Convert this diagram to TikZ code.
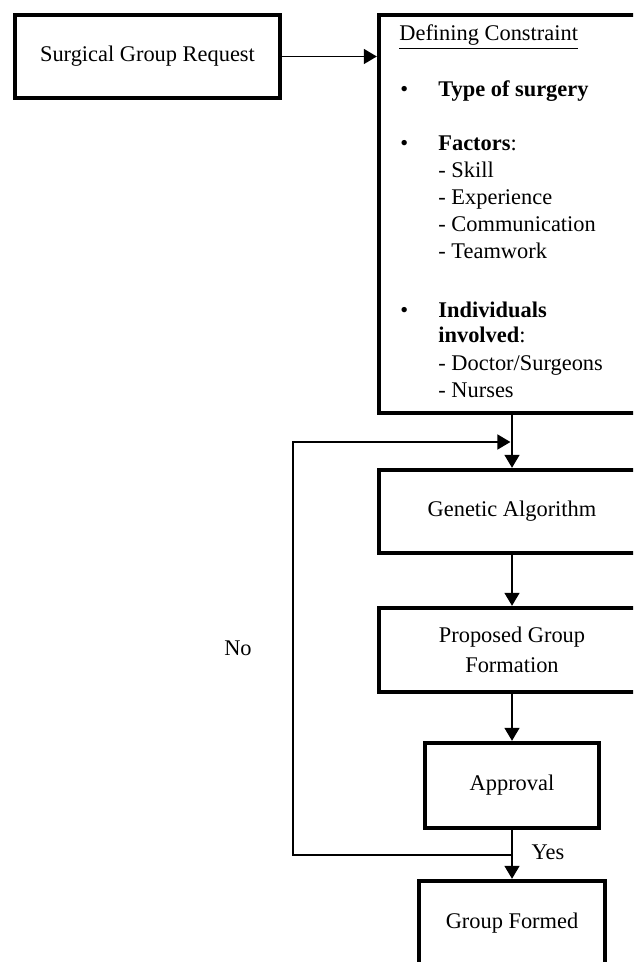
\documentclass[tikz,border=0pt]{standalone}
\usepackage{fontspec}
\setmainfont{Liberation Serif}
\usepackage{tikz}
\usetikzlibrary{arrows.meta}

\begin{document}
\begin{tikzpicture}[x=0.5pt,y=-0.5pt,
	font=\fontsize{11.2}{15}\selectfont,
	stepbox/.style={draw,line width=2.2pt,inner sep=0pt,align=center},
	flow/.style={line width=0.8pt,-{Triangle[length=6.5pt,width=7.5pt]}},
	txt/.style={inner sep=0pt,anchor=base west}]
	\useasboundingbox (0,0) rectangle (633,962);
	\clip (0,0) rectangle (633,962);
	
	%boxes
	\node[stepbox,minimum width=132.5pt,minimum height=41.5pt] (request) at (147.5,56.5) {Surgical Group Request};
	\node[stepbox,minimum width=133pt,minimum height=199pt] (constraint) at (512,214) {};
	\node[stepbox,minimum width=133pt,minimum height=41.5pt] (genetic) at (512,511.5) {Genetic Algorithm};
	\node[stepbox,minimum width=133pt,minimum height=42pt] (proposal) at (512,650) {Proposed Group\\Formation};
	\node[stepbox,minimum width=87pt,minimum height=42.5pt] (approval) at (512,785.5) {Approval};
	\node[stepbox,minimum width=93pt,minimum height=42.5pt] (formed) at (512,923.5) {Group Formed};
	
	%constraint list
	\node[txt] (title)   at (399,41)  {\underline{Defining Constraint}};
	\node[txt] (dot1)    at (400,97)  {\textbullet};
	\node[txt] (type)    at (438,97)  {\textbf{Type of surgery}};
	\node[txt] (dot2)    at (400,151) {\textbullet};
	\node[txt] (factors) at (438,151) {\textbf{Factors}:};
	\node[txt] (skill)   at (438,178) {- Skill};
	\node[txt] (exper)   at (438,205) {- Experience};
	\node[txt] (commu)   at (438,232) {- Communication};
	\node[txt] (team)    at (438,259) {- Teamwork};
	\node[txt] (dot3)    at (400,317) {\textbullet};
	\node[txt] (indiv)   at (438,317) {\textbf{Individuals}};
	\node[txt] (invol)   at (438,343) {\textbf{involved}:};
	\node[txt] (doctor)  at (438,370) {- Doctor/Surgeons};
	\node[txt] (nurse)   at (438,397) {- Nurses};
	
	%labels
	\node (no)  at (238,648) {No};
	\node (yes) at (548,852) {Yes};
	
	%loop points
	\coordinate (loopout)    at (512,855);
	\coordinate (loopcorner) at (293,648);
	\coordinate (loopin)     at (512,442);
	
	%arrows
	\draw[flow] (request.east) -- (request.east -| constraint.west);	%request--constraint
	\draw[flow] (constraint.south) -- (genetic.north);				%constraint--GA
	\draw[flow] (genetic.south) -- (proposal.north);				%GA--proposal
	\draw[flow] (proposal.south) -- (approval.north);				%proposal--approval
	\draw[flow] (approval.south) -- (formed.north);					%approval--formed
	\draw[flow,shorten >=0.8pt] (loopout) -| (loopcorner) |- (loopin);	%No--GA
\end{tikzpicture}
\end{document}
